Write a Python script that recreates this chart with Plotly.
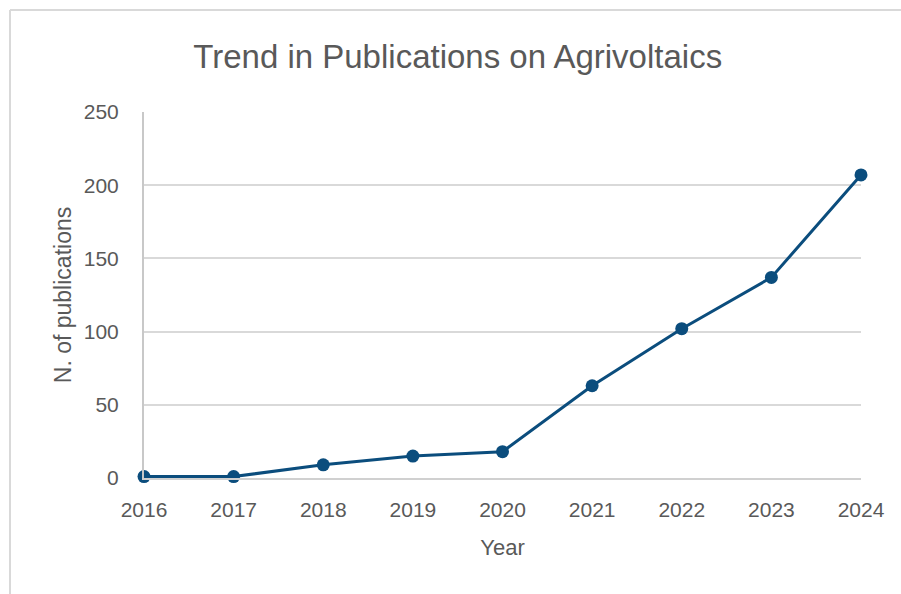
import plotly.graph_objects as go

years = [2016, 2017, 2018, 2019, 2020, 2021, 2022, 2023, 2024]
publications = [1, 1, 9, 15, 18, 63, 102, 137, 207]
y_ticks = [0, 50, 100, 150, 200, 250]

TEXT = "#595959"
FONT = "Liberation Sans, Arial, sans-serif"
LINE = "#0b4d7d"

fig = go.Figure()
fig.add_trace(go.Scatter(
    x=years, y=publications, mode="lines+markers",
    line=dict(color=LINE, width=3),
    marker=dict(color=LINE, size=13),
    cliponaxis=False, showlegend=False,
))

fig.update_layout(
    width=901, height=594,
    margin=dict(l=144, r=40, t=112, b=116),
    paper_bgcolor="white", plot_bgcolor="white",
    font=dict(family=FONT, color=TEXT),
    title=dict(text="Trend in Publications on Agrivoltaics",
               x=0.508, xanchor="center", y=0.905, yanchor="middle",
               font=dict(size=33, color=TEXT, family=FONT)),
    xaxis=dict(range=[2016, 2024], tickmode="array", tickvals=years,
               ticktext=[str(y) for y in years],
               showgrid=False, zeroline=False,
               showline=True, linecolor="#d0d0d0", linewidth=2,
               ticks="", tickfont=dict(size=21, color=TEXT),
               ticklabelstandoff=12,
               title=dict(text="Year", font=dict(size=22, color=TEXT), standoff=19)),
    yaxis=dict(range=[0, 250], tickmode="array", tickvals=y_ticks,
               showgrid=True, gridcolor="#d9d9d9", gridwidth=2,
               zeroline=False, showline=True, linecolor="#c8c8c8", linewidth=2,
               ticks="", tickfont=dict(size=21, color=TEXT),
               ticklabelstandoff=19,
               title=dict(text="N. of publications", font=dict(size=23, color=TEXT), standoff=6)),
    shapes=[
        dict(type="line", xref="paper", yref="paper",
             x0=(10 - 144) / 717, x1=1.1, y0=(478 - 10) / 366, y1=(478 - 10) / 366,
             line=dict(color="#d9d9d9", width=2)),
        dict(type="line", xref="paper", yref="paper",
             x0=(10 - 144) / 717, x1=(10 - 144) / 717, y0=(478 - 10) / 366, y1=(478 - 594) / 366,
             line=dict(color="#d9d9d9", width=2)),
    ],
)

fig.write_html("out.html")
